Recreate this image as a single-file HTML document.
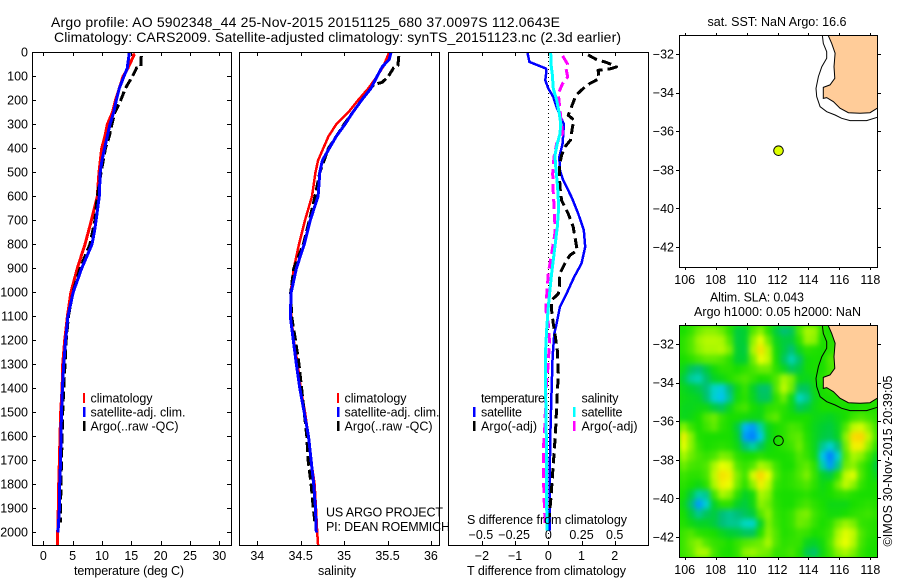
<!DOCTYPE html>
<html lang="en">
<head>
<meta charset="utf-8">
<title>Argo profile 5902348_44</title>
<style>
html,body{margin:0;padding:0;background:#fff;width:900px;height:580px;overflow:hidden}
svg{display:block}
text{font-family:"Liberation Sans",sans-serif;font-size:12.5px;fill:#000}
.t{font-size:14px}
.fr{fill:none;stroke:#000;stroke-width:1;shape-rendering:crispEdges}
</style>
</head>
<body>
<svg id="chart" xmlns="http://www.w3.org/2000/svg" width="900" height="580" viewBox="0 0 900 580">
<defs>
<filter id="smooth" x="-5%" y="-5%" width="110%" height="110%" color-interpolation-filters="sRGB"><feGaussianBlur stdDeviation="2.6" edgeMode="duplicate"/></filter>
<clipPath id="clipMapA"><rect x="679.5" y="35.5" width="198" height="232"/></clipPath>
<clipPath id="clipMapB"><rect x="679.5" y="325.5" width="198" height="232"/></clipPath>
</defs>
<text class="t" x="51" y="27" textLength="509">Argo profile: AO 5902348_44 25-Nov-2015 20151125_680 37.0097S 112.0643E</text>
<text class="t" x="54" y="42" textLength="567">Climatology: CARS2009. Satellite-adjusted climatology: synTS_20151123.nc (2.3d earlier)</text>

<g id="plots"></g>

<rect class="fr" x="32.5" y="52.5" width="199" height="493"/>
<rect class="fr" x="239.5" y="52.5" width="200" height="493"/>
<rect class="fr" x="448.5" y="52.5" width="200" height="493"/>

<text x="74" y="575" textLength="110">temperature (deg C)</text>
<text x="318" y="575" textLength="38">salinity</text>
<text x="467" y="575" textLength="159">T difference from climatology</text>
<text x="467" y="524" textLength="160">S difference from climatology</text>

<g>
<rect x="83" y="393" width="2" height="10" fill="#f00"/>
<rect x="83" y="407" width="2.5" height="10" fill="#00f"/>
<rect x="83" y="421" width="2.5" height="10" fill="#000"/>
<text x="90.5" y="402.5" textLength="62">climatology</text>
<text x="90.5" y="416.5" textLength="95">satellite-adj. clim.</text>
<text x="90.5" y="430.5" textLength="88">Argo(..raw -QC)</text>
</g>
<g>
<rect x="337" y="393" width="2" height="10" fill="#f00"/>
<rect x="337" y="407" width="2.5" height="10" fill="#00f"/>
<rect x="337" y="421" width="2.5" height="10" fill="#000"/>
<text x="344.5" y="402.5" textLength="62">climatology</text>
<text x="344.5" y="416.5" textLength="95">satellite-adj. clim.</text>
<text x="344.5" y="430.5" textLength="88">Argo(..raw -QC)</text>
</g>
<text x="326" y="516.5" textLength="117">US ARGO PROJECT</text>
<text x="326" y="531" textLength="124">PI: DEAN ROEMMICH</text>
<g>
<text x="481" y="402.5" textLength="64">temperature</text>
<rect x="473" y="407" width="2.5" height="10" fill="#00f"/>
<rect x="473" y="421" width="2.5" height="10" fill="#000"/>
<text x="481" y="416.5" textLength="41">satellite</text>
<text x="481" y="430.5" textLength="56">Argo(-adj)</text>
<text x="581.5" y="402.5" textLength="37">salinity</text>
<rect x="573" y="407" width="2.5" height="10" fill="#0ff"/>
<rect x="573" y="421" width="2.5" height="10" fill="#f0f"/>
<text x="581.5" y="416.5" textLength="41">satellite</text>
<text x="581.5" y="430.5" textLength="56">Argo(-adj)</text>
</g>

<text x="707.5" y="26" textLength="139">sat. SST: NaN Argo: 16.6</text>
<text x="710" y="301.5" textLength="94">Altim. SLA: 0.043</text>
<text x="694" y="316" textLength="167">Argo h1000: 0.05 h2000: NaN</text>
<g id="maps"></g>
<text transform="translate(892,546.5) rotate(-90)" x="0" y="0" textLength="171">©IMOS 30-Nov-2015 20:39:05</text>
</svg>
<script>
// ---- profile data (depth in dbar) ----
const tempTicks = [0,5,10,15,20,25,30];
const salTicks = [34,34.5,35,35.5,36];
const salTickLabels = ['34','34.5','35','35.5','36'];
const depthTicks = [0,100,200,300,400,500,600,700,800,900,1000,1100,1200,1300,1400,1500,1600,1700,1800,1900,2000];
const tDiffTicks = [-2,-1,0,1,2];
const sDiffTicks = [-0.5,-0.25,0,0.25,0.5];

const climDepths = [5,12,67,100,200,250,300,350,400,500,600,650,700,800,900,1000,1100,1200,1300,1400,1500,1600,1700,1800,1900,2000,2054];
const tempClim = [15.3,15.45,14.4,13.6,12.3,11.8,10.9,10.5,9.95,9.5,9.2,8.7,8.2,7.1,5.8,4.7,4.1,3.65,3.3,3.2,2.97,2.85,2.75,2.62,2.56,2.45,2.4];
const salDepthsClim = [0,60,100,150,200,250,300,350,400,450,500,600,700,800,900,1000,1100,1200,1300,1400,1500,1600,1700,1800,1900,2000,2054];
const salClim = [35.52,35.45,35.38,35.28,35.16,35.05,34.91,34.82,34.76,34.70,34.67,34.63,34.55,34.48,34.42,34.385,34.39,34.42,34.465,34.50,34.55,34.59,34.62,34.66,34.676,34.69,34.70];

const satDepths = [0,67,100,150,200,250,300,350,400,450,500,600,700,750,800,900,1000,1100,1200,1300,1400,1500,1600,1700,1800,1900,2000];
const tempSat = [14.67,14.3,13.75,12.95,12.45,12,11.37,10.9,10.45,10,9.7,9.55,9,8.7,8.3,6.55,5.1,4.2,3.8,3.47,3.25,3.1,3,2.95,2.8,2.75,2.5];
const salDepthsSat = [0,30,60,100,150,200,250,300,350,400,450,500,600,700,800,900,1000,1100,1200,1300,1400,1500,1600,1700,1800,1900,2000];
const salSat = [35.54,35.52,35.44,35.38,35.31,35.2,35.1,35.01,34.91,34.83,34.75,34.72,34.70,34.61,34.54,34.45,34.39,34.38,34.415,34.45,34.49,34.54,34.59,34.62,34.65,34.67,34.68];

const argoDepths = [15,60,65,100,150,200,220,250,300,350,400,500,600,700,800,900,1000,1100,1200,1300,1400,1500,1600,1700,1800,1900,1960];
const tempArgo = [16.7,16.6,15.9,15.2,14,13.2,12.8,12.2,11.7,11.25,10.6,9.85,9.2,8.8,7.95,6.25,5.05,4.27,3.9,3.7,3.47,3.3,3.2,3.1,3,2.95,2.9];
const salDepthsArgo = [15,55,65,100,125,135,200,300,400,500,600,700,800,900,1000,1100,1200,1300,1400,1500,1600,1700,1800,1900,1960];
const salArgo = [35.63,35.62,35.57,35.51,35.44,35.34,35.2,35,34.82,34.72,34.665,34.6,34.53,34.42,34.385,34.395,34.44,34.48,34.51,34.54,34.57,34.585,34.62,34.645,34.665];

const dtSatDepths = [0,40,55,68,92,117,151,186,228,262,300,380,436,491,533,603,672,741,811,880,936,1005,1061,1131,1172,1269,1408,1547,1686,1825,1992];
const dtSat = [-0.63,-0.57,-0.3,-0.07,-0.07,-0.09,0,0.15,0.25,0.35,0.47,0.43,0.33,0.35,0.45,0.7,0.9,1.07,1.11,1,0.78,0.55,0.35,0.25,0.18,0.13,0.1,0.07,0.05,0.04,0.05];
const dtArgoDepths = [11,30,40,50,61,68,75,110,130,151,179,228,262,283,311,366,394,429,478,561,617,672,728,783,825,846,880,922,978,1006,1033,1075,1131,1172,1242,1339,1478,1575,1658,1756,1853,1936];
const dtArgo = [1.2,1.45,1.7,1.9,2.05,1.9,1.5,1.53,1.25,1.05,0.83,0.7,0.6,0.78,0.73,0.67,0.5,0.4,0.33,0.35,0.4,0.6,0.75,0.82,0.87,0.65,0.5,0.35,0.33,0.3,0.1,0.1,0.15,0.2,0.27,0.3,0.25,0.22,0.18,0.13,0.08,0.03];
const dsSatDepths = [0,50,92,151,200,255,297,339,380,430,491,561,645,728,811,922,1061,1158,1242,1408,1686,1880,1992];
const dsSat = [0.018,0.02,0.03,0.038,0.063,0.083,0.093,0.088,0.068,0.05,0.058,0.07,0.078,0.068,0.05,0.025,0,-0.013,-0.02,-0.02,-0.013,-0.013,-0.008];
const dsArgoDepths = [15,50,68,103,130,172,214,269,339,380,436,505,589,686,755,839,922,1019,1075,1131,1200,1297,1408,1547,1658,1756,1880,1964];
const dsArgo = [0.108,0.146,0.133,0.146,0.108,0.075,0.083,0.093,0.108,0.063,0.043,0.033,0.038,0.048,0.05,0.025,0,-0.013,-0.018,0,0.008,0,-0.018,-0.025,-0.038,-0.038,-0.03,-0.023];

// ---- map data ----
const mapLonTicks = [106,108,110,112,114,116,118];
const mapLatTicks = [-32,-34,-36,-38,-40,-42];
const floatLon = 112.0643;
const floatLat = -37.0097;
const landLon = [115.28,115.5,115.72,115.65,115.7,115.39,114.96,114.96,115.18,115.61,116.04,116.58,117.33,117.98,118.45];
const landLat = [-31.05,-31.45,-31.96,-32.66,-33.26,-33.6,-33.73,-34.3,-34.26,-34.47,-34.81,-35.04,-35.07,-35.04,-34.81];
const isoLon = [114.9,114.96,115.18,115.18,114.86,114.64,114.49,114.53,114.75,115.18,115.72,116.15,116.69,117.76,118.45];
const isoLat = [-31.05,-31.45,-31.88,-32.22,-32.66,-33.17,-33.78,-34.21,-34.73,-34.99,-35.16,-35.33,-35.45,-35.45,-35.28];
const slaLonStart = 105.65;
const slaLatStart = -31.05;
const slaStep = 0.5;
// sea level anomaly, cm: rows north to south, columns west to east
const slaRows = [
[0,3,8,10,10,8,2,-6,-5,6,10,2,-6,-10,-8,6,12,11,2,0,0,0,0,0,0,0],
[2,6,11,13,13,12,6,-6,-5,10,18,8,-3,-6,-6,2,11,10,0,2,0,0,0,0,0,0],
[2,6,10,12,12,13,9,-5,-6,12,22,13,-1,-6,-10,-3,2,1,0,2,4,4,4,4,4,4],
[0,2,5,7,7,6,2,-5,-5,8,18,14,0,-8,-15,-9,-1,0,0,6,6,6,6,6,6,6],
[-3,-8,-10,-6,-1,2,2,0,2,5,8,8,2,-3,-8,-6,-1,0,0,5,6,6,6,6,6,6],
[-6,-13,-15,-9,-4,-2,1,4,6,3,0,1,6,12,9,-2,-3,-1,2,4,4,4,4,4,4,4],
[-3,-5,-7,-10,-17,-19,-10,-2,3,-4,-9,-9,6,14,8,-8,-8,-2,0,2,2,2,2,2,2,2],
[-2,-3,-4,-9,-18,-21,-12,-1,2,-3,-8,-8,2,8,-2,-16,-12,-3,0,0,1,1,1,1,1,1],
[-3,-3,-2,-2,-6,-8,-3,3,5,0,-2,2,3,2,-2,-8,-6,-2,0,0,0,0,0,1,1,1],
[-3,-2,0,6,8,3,0,0,-1,-2,-2,5,7,1,0,0,0,-2,-3,-4,-2,0,4,6,4,2],
[10,4,0,4,7,2,0,-6,-22,-24,-14,-3,0,2,5,4,0,-3,-5,-6,-3,6,14,16,10,4],
[20,10,1,0,0,0,0,-4,-24,-30,-20,-4,0,2,6,7,1,-3,-6,-7,-4,10,23,24,14,5],
[18,10,3,0,1,2,1,-2,-10,-14,-8,-2,0,2,4,8,2,-3,-12,-18,-10,8,20,20,10,2],
[12,8,5,3,5,9,8,2,0,0,2,0,0,0,1,6,3,-2,-20,-30,-18,6,12,10,4,-3],
[8,5,4,6,12,18,16,6,3,6,12,10,4,0,0,5,7,2,-14,-24,-12,8,10,5,0,-6],
[4,2,2,5,14,22,20,9,4,16,24,18,6,1,2,6,9,3,-4,-6,2,14,17,6,0,-3],
[2,0,-2,2,12,20,18,8,2,10,20,14,3,1,2,4,6,2,-2,0,8,14,10,3,0,0],
[0,-6,-14,-12,4,12,10,2,-4,-1,12,10,1,0,0,1,2,0,-1,0,2,3,1,0,0,0],
[-2,-10,-24,-18,-4,2,2,-4,-6,-2,10,8,2,0,0,3,5,2,0,-2,-2,-2,0,1,2,1],
[0,-6,-12,-8,-6,-10,-12,-10,-8,-6,6,10,3,1,3,8,9,4,1,-1,-1,0,2,3,4,2],
[1,-2,-4,-4,-6,-10,-12,-12,-16,-17,-4,9,4,1,3,8,7,3,0,2,8,11,9,3,2,1],
[4,6,2,1,0,-3,-5,-6,-8,-8,1,10,6,1,2,4,3,0,1,4,12,17,14,6,2,1],
[4,8,10,6,3,2,0,3,6,7,8,12,6,2,3,3,-3,-4,-1,6,14,18,13,5,1,0],
[4,7,12,12,5,1,0,3,10,11,9,8,3,3,5,1,-7,-9,-2,4,10,12,9,3,0,0]
];

// ---- axis functions ----
const NS = 'http://www.w3.org/2000/svg';
const yD = d => 52.3 + 0.24 * d;
const xT = t => 43.3 + 5.867 * t;
const xS = s => 257.3 + 86.8 * (s - 34);
const xDT = v => 548.3 + 33.2 * v;
const xDS = v => 548.3 + 132.8 * v;
const xLon = l => 684.7 + 15.47 * (l - 106);
const yLatA = l => 54 + 19.3 * (-32 - l);
const yLatB = l => 344 + 19.3 * (-32 - l);

function mk(tag, attrs, parent, txt) {
  const el = document.createElementNS(NS, tag);
  for (const k in attrs) el.setAttribute(k, attrs[k]);
  if (txt !== undefined) el.textContent = txt;
  parent.appendChild(el);
  return el;
}
function series(parent, name, xf, xs, ds, color, width, dash) {
  const pts = xs.map((v, i) => xf(v).toFixed(1) + ',' + yD(ds[i]).toFixed(1)).join(' ');
  const el = mk('polyline', {points: pts, fill: 'none', stroke: color, 'stroke-width': width, 'stroke-linejoin': 'round', 'shape-rendering': 'crispEdges'}, parent);
  if (dash) el.setAttribute('stroke-dasharray', dash);
  
  
}
function tick(parent, x1, y1, x2, y2) {
  const el = mk('line', {x1, y1, x2, y2, stroke: '#000', 'stroke-width': 1, 'shape-rendering': 'crispEdges'}, parent);
  
  
}
function label(parent, x, y, anchor, s) {
  const el = mk('text', {x, y, 'text-anchor': anchor}, parent, s);
  
  
}

const plots = document.getElementById('plots');
const maps = document.getElementById('maps');

// depth axis on the temperature panel
depthTicks.forEach(d => {
  const y = Math.round(yD(d)) + 0.5;
  tick(plots, 32, y, 36, y);
  tick(plots, 227, y, 231, y);
  label(plots, 28, yD(d) + 4, 'end', String(d));
});
// x axes
tempTicks.forEach(t => {
  const x = Math.round(xT(t)) + 0.5;
  tick(plots, x, 52, x, 56);
  tick(plots, x, 541, x, 545);
  label(plots, xT(t), 560, 'middle', String(t));
});
salTicks.forEach((s, i) => {
  const x = Math.round(xS(s)) + 0.5;
  tick(plots, x, 52, x, 56);
  tick(plots, x, 541, x, 545);
  label(plots, xS(s), 560, 'middle', salTickLabels[i]);
});
tDiffTicks.forEach(v => {
  const x = Math.round(xDT(v)) + 0.5;
  tick(plots, x, 52, x, 56);
  tick(plots, x, 541, x, 545);
  label(plots, xDT(v), 560, 'middle', v < 0 ? '\u2212' + Math.abs(v) : String(v));
});
sDiffTicks.forEach(v => {
  label(plots, xDS(v) - (v < 0 ? 1 : 0), 539, 'middle', v < 0 ? '\u2212' + Math.abs(v) : String(v));
});

// temperature panel
series(plots, 'temperature-climatology-line', xT, tempClim, climDepths, '#f00', 3);
series(plots, 'temperature-argo-line', xT, tempArgo, argoDepths, '#000', 3, '10 4');
series(plots, 'temperature-satellite-line', xT, tempSat, satDepths, '#00f', 3);
// salinity panel
series(plots, 'salinity-climatology-line', xS, salClim, salDepthsClim, '#f00', 2.5);
series(plots, 'salinity-argo-line', xS, salArgo, salDepthsArgo, '#000', 3, '10 4');
series(plots, 'salinity-satellite-line', xS, salSat, salDepthsSat, '#00f', 3);
// difference panel
const zero = mk('line', {x1: 548.5, y1: 53, x2: 548.5, y2: 545, stroke: '#000', 'stroke-width': 1, 'stroke-dasharray': '1 3'}, plots);


series(plots, 'temperature-difference-satellite-line', xDT, dtSat, dtSatDepths, '#00f', 2.5);
series(plots, 'temperature-difference-argo-line', xDT, dtArgo, dtArgoDepths, '#000', 3, '10 5');
series(plots, 'salinity-difference-argo-line', xDS, dsArgo, dsArgoDepths, '#f0f', 3, '10 5');
series(plots, 'salinity-difference-satellite-line', xDS, dsSat, dsSatDepths, '#0ff', 3);

// colour scale for the anomaly field
const scaleVals = [-26,-21,-16,-10,-5,0,6,12,18,25];
const scaleCols = [[0,128,255],[0,196,240],[0,216,192],[0,192,120],[0,208,48],[24,222,0],[80,232,0],[170,248,0],[235,255,0],[255,205,0]];
function slaColor(v) {
  const n = scaleVals.length;
  if (v <= scaleVals[0]) return 'rgb(' + scaleCols[0].join(',') + ')';
  if (v >= scaleVals[n - 1]) return 'rgb(' + scaleCols[n - 1].join(',') + ')';
  let i = 0;
  while (v > scaleVals[i + 1]) i++;
  const f = (v - scaleVals[i]) / (scaleVals[i + 1] - scaleVals[i]);
  const c = scaleCols[i].map((a, k) => Math.round(a + f * (scaleCols[i + 1][k] - a)));
  return 'rgb(' + c.join(',') + ')';
}

function drawMap(yLat, top, clipId, isSla, nm) {
  const g = mk('g', {'clip-path': 'url(#' + clipId + ')'}, maps);
  
  
  if (isSla) {
    const under = mk('rect', {x: 679, y: top, width: 199, height: 232, fill: '#20e000'}, g);
    
    
    const cells = mk('g', {filter: 'url(#smooth)'}, g);
    
    
    slaRows.forEach((row, r) => row.forEach((v, c) => {
      const x0 = xLon(slaLonStart + c * slaStep), x1 = xLon(slaLonStart + (c + 1) * slaStep);
      const y0 = yLat(slaLatStart - r * slaStep), y1 = yLat(slaLatStart - (r + 1) * slaStep);
      const cell = mk('rect', {x: x0.toFixed(2), y: y0.toFixed(2), width: (x1 - x0 + 0.6).toFixed(2), height: (y1 - y0 + 0.6).toFixed(2), fill: slaColor(v)}, cells);
      
      
    }));
  }
  const n = landLon.length;
  const land = landLon.map((l, i) => xLon(l).toFixed(1) + ',' + yLat(landLat[i]).toFixed(1));
  land.push(xLon(118.6).toFixed(1) + ',' + yLat(landLat[n - 1]).toFixed(1));
  land.push(xLon(118.6).toFixed(1) + ',' + yLat(-31).toFixed(1));
  land.push(xLon(landLon[0]).toFixed(1) + ',' + yLat(-31).toFixed(1));
  const poly = mk('polygon', {points: land.join(' '), fill: '#ffcc99'}, g);
  
  
  const coast = mk('polyline', {points: landLon.map((l, i) => xLon(l).toFixed(1) + ',' + yLat(landLat[i]).toFixed(1)).join(' '), fill: 'none', stroke: '#000', 'stroke-width': 1}, g);
  
  
  const iso = mk('polyline', {points: isoLon.map((l, i) => xLon(l).toFixed(1) + ',' + yLat(isoLat[i]).toFixed(1)).join(' '), fill: 'none', stroke: '#000', 'stroke-width': 1}, g);
  
  
  const dot = mk('circle', {cx: xLon(floatLon), cy: yLat(floatLat), r: 4.8, fill: isSla ? 'none' : '#ddff00', stroke: '#000', 'stroke-width': 1}, g);
  
  

  const fr = mk('rect', {x: 679.5, y: top + 0.5, width: 198, height: 232, class: 'fr'}, maps);
  
  
  mapLonTicks.forEach(l => {
    const x = Math.round(xLon(l)) + 0.5;
    tick(maps, x, top - 2, x, top);
    tick(maps, x, top + 233, x, top + 235);
    label(maps, xLon(l), top + 249, 'middle', String(l));
  });
  mapLatTicks.forEach(l => {
    const y = Math.round(yLat(l)) + 0.5;
    tick(maps, 676, y, 679, y);
    tick(maps, 878, y, 881, y);
    label(maps, 674, yLat(l) + 4.5, 'end', '\u2212' + Math.abs(l));
  });
}
drawMap(yLatA, 35, 'clipMapA', false, 'sst');
drawMap(yLatB, 325, 'clipMapB', true, 'sla');
</script>
</body>
</html>
